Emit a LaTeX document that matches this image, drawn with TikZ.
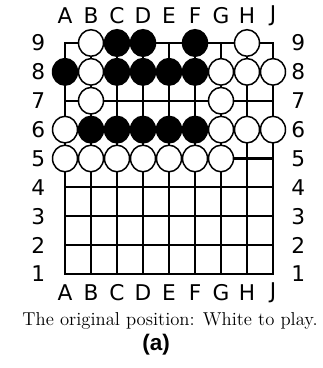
\documentclass[tikz,border=0pt]{standalone}
\usepackage{fontspec}
\usepackage{tikz}
\newfontfamily\boardfont{DejaVu Sans}
\newfontfamily\tagfont{Liberation Sans}
\tikzset{
  gridline/.style={line width=1.3pt,line cap=rect},
  blackstone/.style={fill=black,draw=black,line width=0.9pt},
  whitestone/.style={fill=white,draw=black,line width=0.9pt},
  coordlabel/.style={font=\boardfont\fontsize{13}{15}\selectfont,inner sep=0pt}
}

\begin{document}
\begin{tikzpicture}[x=15.6pt,y=17.325pt]
        \useasboundingbox (-1.5,-2.255) rectangle (10.885,10.489);
        % Grade
        \foreach \i in {1,...,9}{
          \draw[gridline] (\i,1)--(\i,9);
          \draw[gridline] (1,\i)--(9,\i);
        }
        % Letras e numeros
        \foreach \i/\lab in {1/A,2/B,3/C,4/D,5/E,6/F,7/G,8/H,9/J}{
          \node[coordlabel] (top-\lab) at (\i,9.95){\lab};
          \node[coordlabel] (bot-\lab) at (\i,0.36){\lab};
          \node[coordlabel] (left-\i) at (-0.03,\i){\i};
          \node[coordlabel] (right-\i) at (9.97,\i){\i};
        }
        % Pedras pretas
        \foreach \x/\y in {3/9,4/9,6/9,1/8,3/8,4/8,5/8,6/8,
                           2/6,3/6,4/6,5/6,6/6}{
          \draw[blackstone] (\x,\y) ellipse [x radius=0.48,y radius=0.46];
        }
        % Pedras brancas
        \foreach \x/\y in {2/9,8/9,2/8,7/8,8/8,9/8,2/7,7/7,
                           1/6,7/6,8/6,9/6,1/5,2/5,3/5,4/5,5/5,6/5,7/5}{
          \draw[whitestone] (\x,\y) ellipse [x radius=0.48,y radius=0.46];
        }
        % Legenda
        \node[font=\fontsize{11.2}{13}\selectfont,inner sep=0pt] (caption)
          at (5.04,-0.63){The original position: White to play.};
        \node[font=\tagfont\bfseries\fontsize{13.5}{15}\selectfont,inner sep=0pt]
          (subfig) at (4.5,-1.46){(a)};
      \end{tikzpicture}
\end{document}
